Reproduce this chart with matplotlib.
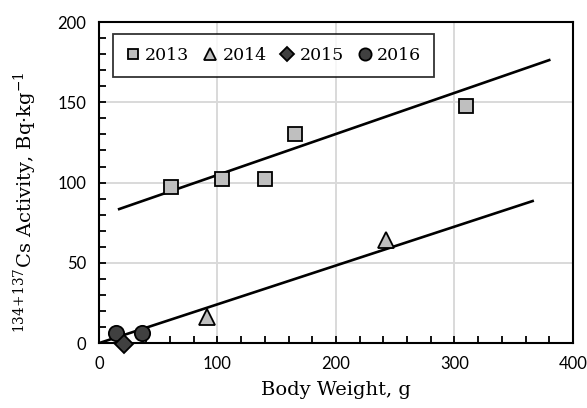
import matplotlib
matplotlib.use("Agg")
import matplotlib.pyplot as plt
from matplotlib.ticker import MultipleLocator
import numpy as np

plt.rcParams['mathtext.fontset'] = 'custom'
plt.rcParams['mathtext.rm'] = 'DejaVu Serif'
plt.rcParams['mathtext.it'] = 'DejaVu Serif'

# data
x2013 = [61, 104, 140, 165, 310]
y2013 = [97, 102, 102, 130, 148]
x2014 = [91, 242]
y2014 = [16, 64]
x2015 = [21]
y2015 = [-0.5]
x2016 = [14, 36]
y2016 = [6, 6]
# trend lines (start/end x, start/end y)
fit_a_x = [17, 380]
fit_a_y = [83.5, 176.3]
fit_b_x = [0, 366]
fit_b_y = [0, 88.5]

fig = plt.figure(figsize=(5.87, 4.08), dpi=100)
ax = fig.add_axes([0.1687, 0.159, 0.8073, 0.787])

ax.plot(fit_a_x, fit_a_y, color='black', lw=1.9, zorder=3)
ax.plot(fit_b_x, fit_b_y, color='black', lw=1.9, zorder=3)

ax.plot(x2013, y2013, ls='none', marker='s', ms=9.5, mfc='#bfbfbf', mec='black', mew=1.3, label='2013', zorder=4, clip_on=False)
ax.plot(x2014, y2014, ls='none', marker='^', ms=11, mfc='#bfbfbf', mec='black', mew=1.3, label='2014', zorder=4, clip_on=False)
ax.plot(x2015, y2015, ls='none', marker='D', ms=9, mfc='#404040', mec='black', mew=1.3, label='2015', zorder=5, clip_on=False)
ax.plot(x2016, y2016, ls='none', marker='o', ms=11, mfc='#404040', mec='black', mew=1.3, label='2016', zorder=4, clip_on=False)

ax.set_xlim(0, 400)
ax.set_ylim(0, 200)
ax.xaxis.set_major_locator(MultipleLocator(100))
ax.xaxis.set_minor_locator(MultipleLocator(20))
ax.yaxis.set_major_locator(MultipleLocator(50))
ax.yaxis.set_minor_locator(MultipleLocator(10))
ax.grid(True, which='major', color='#d9d9d9', lw=1.4, zorder=0)
ax.set_axisbelow(True)
ax.tick_params(which='both', direction='in', length=5, width=1.3, colors='black')
ax.tick_params(which='major', labelsize=12, pad=9)
ax.tick_params(which='both', top=False, right=False)
for lab in ax.get_xticklabels() + ax.get_yticklabels():
    lab.set_fontfamily('Lato')
for s in ax.spines.values():
    s.set_linewidth(1.5)
    s.set_color('black')

ax.set_xlabel('Body Weight, g', family='DejaVu Serif', fontsize=14, labelpad=7)
ax.set_ylabel(r'$^{134\!+\!137}$Cs Activity, Bq·kg$^{-1}$', family='DejaVu Serif', fontsize=14)
ax.yaxis.set_label_coords(-0.127, 0.44)

leg = ax.legend(loc='upper left', ncol=4, bbox_to_anchor=(0.0295, 0.963), borderaxespad=0, frameon=True, fancybox=False,
                edgecolor='black', prop={'family': 'DejaVu Serif', 'size': 12.5},
                handletextpad=0.3, columnspacing=0.8, borderpad=0.75, handlelength=0.8, markerscale=0.8)
leg.get_frame().set_linewidth(1.3)

fig.savefig('out.png', dpi=100)
